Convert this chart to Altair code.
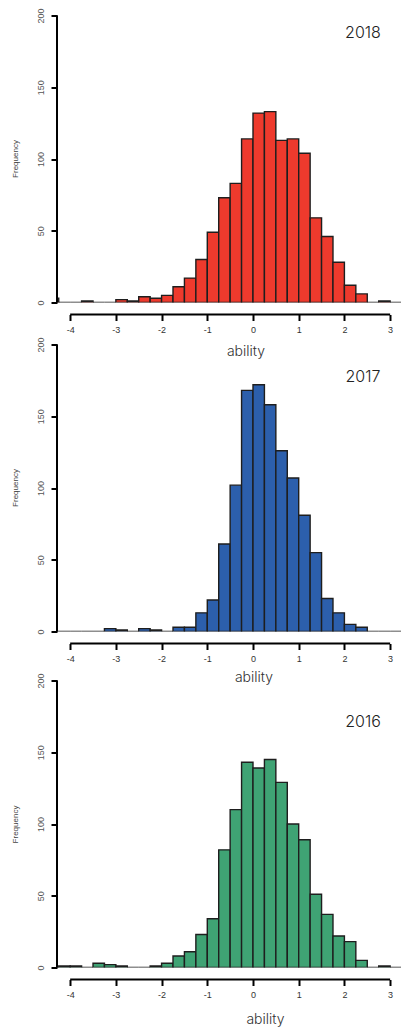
import altair as alt
import pandas as pd

BIN_LEFT = [-4.5, -4.25, -4.0, -3.75, -3.5, -3.25, -3.0, -2.75, -2.5, -2.25,
            -2.0, -1.75, -1.5, -1.25, -1.0, -0.75, -0.5, -0.25, 0.0, 0.25,
            0.5, 0.75, 1.0, 1.25, 1.5, 1.75, 2.0, 2.25, 2.5, 2.75, 3.0]
BIN_WIDTH = 0.25

COUNTS_2018 = [3, 0, 0, 1, 0, 0, 2, 1, 4, 3,
               5, 11, 17, 30, 49, 73, 83, 114, 132, 133,
               113, 114, 104, 59, 46, 28, 12, 6, 0, 1, 0]
COUNTS_2017 = [0, 0, 0, 0, 0, 2, 1, 0, 2, 1,
               0, 3, 3, 13, 22, 61, 102, 168, 172, 158,
               126, 107, 81, 55, 23, 13, 5, 3, 0, 0, 0]
COUNTS_2016 = [0, 1, 1, 0, 3, 2, 1, 0, 0, 1,
               3, 8, 11, 23, 34, 82, 110, 143, 139, 145,
               129, 100, 89, 51, 37, 22, 18, 5, 0, 1, 0]

YEARS = ["2018", "2017", "2016"]
COLORS = ["#EE3A2D", "#2C5FAC", "#3FA374"]
X_TICKS = [-4, -3, -2, -1, 0, 1, 2, 3]
Y_TICKS = [0, 50, 100, 150, 200]
X_TITLE = "ability"
Y_TITLE = "Frequency"

W = 344
PX_PER_COUNT = 287 / 200
X_DOMAIN = [-4.288, 3.238]
LATIN = "Liberation Sans"
THIN = "Inter"


def panel(year, counts, color, h, title_x, title_y, year_y, ytitle_y):
    ymax = h / PX_PER_COUNT
    df = pd.DataFrame({
        "left": BIN_LEFT,
        "right": [b + BIN_WIDTH for b in BIN_LEFT],
        "count": counts,
        "zero": [0] * len(BIN_LEFT),
    })
    bars = alt.Chart(df).mark_rect(
        fill=color, stroke="#1e1e1e", strokeWidth=1.4, clip=True
    ).encode(
        x=alt.X("left:Q",
                scale=alt.Scale(domain=X_DOMAIN, nice=False, zero=False),
                axis=alt.Axis(values=X_TICKS, domain=False, grid=False, offset=12,
                              tickSize=6, tickWidth=2, tickColor="black",
                              labelFontSize=9, labelFont=LATIN, labelColor="#333",
                              labelPadding=5, labelExpr="'' + datum.value",
                              title=X_TITLE, titleFont=THIN, titleFontSize=14,
                              titleFontWeight=300, titleColor="#333",
                              titleX=title_x, titleY=title_y,
                              titleAlign="center", titleBaseline="middle")),
        x2="right:Q",
        y=alt.Y("count:Q",
                scale=alt.Scale(domain=[0, ymax], nice=False),
                axis=alt.Axis(values=Y_TICKS, grid=False, domain=False,
                              tickSize=6, tickWidth=2, tickColor="black",
                              labelAngle=270, labelAlign="center", labelBaseline="middle",
                              labelFontSize=9, labelFont=LATIN, labelColor="#555",
                              labelPadding=11,
                              title=Y_TITLE, titleFont=LATIN, titleFontSize=8,
                              titleFontWeight="normal", titleColor="#444",
                              titleAngle=270, titleX=-42, titleY=ytitle_y,
                              titleAlign="center", titleBaseline="middle")),
        y2="zero:Q",
    )
    x_line = alt.Chart(pd.DataFrame({"a": [X_TICKS[0]], "b": [X_TICKS[-1]]})).mark_rule(
        color="black", strokeWidth=2
    ).encode(x=alt.X("a:Q"), x2="b:Q", y=alt.value(h + 12))
    y_line = alt.Chart(pd.DataFrame({"c": [Y_TICKS[0]], "d": [Y_TICKS[-1]]})).mark_rule(
        color="black", strokeWidth=2
    ).encode(y=alt.Y("c:Q"), y2="d:Q", x=alt.value(0))
    label = alt.Chart(pd.DataFrame({"year": [year]})).mark_text(
        font=THIN, fontSize=16, fontWeight=300, color="#222", align="center", baseline="middle"
    ).encode(text="year:N", x=alt.value(306), y=alt.value(year_y))
    return alt.layer(bars, x_line, y_line, label).properties(width=W, height=h)


p1 = panel(YEARS[0], COUNTS_2018, COLORS[0], 287, 188.5, 37, 17.5, 143)
p2 = panel(YEARS[1], COUNTS_2017, COLORS[1], 287, 196.5, 34, 32.5, 143)
p3 = panel(YEARS[2], COUNTS_2016, COLORS[2], 294, 208, 40, 48.5, 150.5)

chart = alt.vconcat(p1, p2, p3, spacing=42, bounds="flush").properties(
    padding={"left": 11, "top": 7.5, "right": 0, "bottom": 0}
).configure_view(stroke=None)

chart.save("out.html", embed_options={"renderer": "svg", "actions": False})
